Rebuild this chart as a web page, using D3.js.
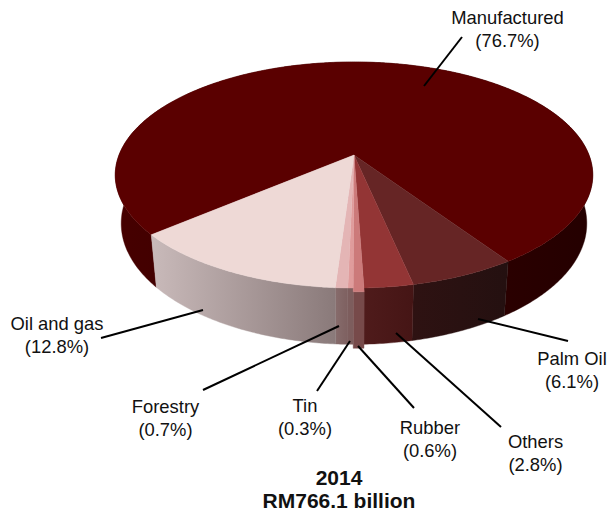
<!DOCTYPE html>
<html>
<head>
<meta charset="utf-8">
<script src="https://cdn.jsdelivr.net/npm/d3@7"></script>
<style>
  html, body { margin: 0; padding: 0; background: #fff; }
  svg { display: block; }
  text { font-family: "Liberation Sans", Arial, sans-serif; fill: #111; }
</style>
</head>
<body>
<svg id="chart" width="610" height="511"></svg>
<script>
// data, in the order the slices run clockwise
let sectors = ["Manufactured", "Palm Oil", "Others", "Rubber", "Tin", "Forestry", "Oil and gas"]
let shares = [76.7, 6.1, 2.8, 0.6, 0.3, 0.7, 12.8]
let topColors = ["#5a0000", "#662525", "#933535", "#cc7a7a", "#e09c9c", "#e4b5b5", "#eed9d6"]
let wallFrom = ["#460000", "#2e1212", "#4f1b1b", "#774a4a", "#7d5d5d", "#876c6c", "#c9baba"]
let wallTo = ["#240000", "#241010", "#451515", "#774a4a", "#7d5d5d", "#7e6060", "#8a7a7a"]

// label anchor [x, y of first baseline], leader [x1, y1, x2, y2]
let labelPos = {
    "Manufactured": [507.5, 24, 462, 37, 424, 86],
    "Palm Oil": [572, 365, 568, 341, 478, 319],
    "Others": [535.5, 448, 501, 427, 396, 333],
    "Rubber": [430, 434, 414, 408, 358, 346],
    "Tin": [305, 412, 317, 391, 350, 341],
    "Forestry": [165.5, 413, 203, 390, 339, 326],
    "Oil and gas": [57, 330, 101, 338, 203, 310]
}
let title = ["2014", "RM766.1 billion"]

let svg = d3.select("#chart")

// the disc is seen in perspective, so its centre sits behind the middle of the ellipse
let cx = 354, cy = 155, rx = 235, ry = 109.5, persp = 0.177
let startAngle = 139.84 * Math.PI / 180

// the rubber slice sticks out of the disc a little
let pull = i => sectors[i] == "Rubber" ? 1.028 : 1

let top3d = (a, i) => {
    let w = 1 - persp * Math.sin(a)
    return [cx + pull(i) * rx * Math.cos(a) / w, cy + pull(i) * ry * Math.sin(a) / w]
}
let bottom3d = (a, i) => {
    let p = top3d(a, i)
    return [cx + 0.975 * (p[0] - cx), cy + 47 + 1.07 * (p[1] - cy)]
}

let pie = d3.pie().sort(null).startAngle(startAngle).endAngle(startAngle + 2 * Math.PI)
let slices = pie(shares)
let line = d3.line()

let arcAngles = d => {
    let n = Math.max(2, Math.ceil((d.endAngle - d.startAngle) / 0.01))
    return d3.range(n + 1).map(i => d.startAngle + (d.endAngle - d.startAngle) * i / n)
}

let defs = svg.append("defs")
slices.forEach((d, i) => {
    let xs = arcAngles(d).map(a => top3d(a, i)[0])
    let grad = defs.append("linearGradient")
        .attr("id", "wall" + i)
        .attr("gradientUnits", "userSpaceOnUse")
        .attr("x1", d3.min(xs)).attr("x2", d3.max(xs))
        .attr("y1", 0).attr("y2", 0)
    grad.append("stop").attr("offset", 0).attr("stop-color", wallFrom[i])
    grad.append("stop").attr("offset", 1).attr("stop-color", wallTo[i])
})

// walls first, the top faces then hide the back half of them
svg.append("g").selectAll("path")
    .data(slices)
    .enter()
    .append("path")
    .attr("d", (d, i) => {
        let angles = arcAngles(d)
        let upper = angles.map(a => top3d(a, i))
        let lower = angles.slice().reverse().map(a => bottom3d(a, i))
        return line(upper.concat(lower)) + "Z"
    })
    .attr("fill", (d, i) => "url(#wall" + i + ")")
    .attr("stroke", (d, i) => "url(#wall" + i + ")")
    .attr("stroke-width", 0.4)

svg.append("g").selectAll("path")
    .data(slices)
    .enter()
    .append("path")
    .attr("d", (d, i) => line([[cx, cy]].concat(arcAngles(d).map(a => top3d(a, i)))) + "Z")
    .attr("fill", (d, i) => topColors[i])
    .attr("stroke", (d, i) => topColors[i])
    .attr("stroke-width", 0.4)

// leaders and labels
let labels = svg.append("g").selectAll("g")
    .data(sectors)
    .enter()
    .append("g")

labels.append("line")
    .attr("x1", d => labelPos[d][2])
    .attr("y1", d => labelPos[d][3])
    .attr("x2", d => labelPos[d][4])
    .attr("y2", d => labelPos[d][5])
    .attr("stroke", "#000")
    .attr("stroke-width", 2)

labels.append("text")
    .attr("x", d => labelPos[d][0])
    .attr("y", d => labelPos[d][1])
    .attr("text-anchor", "middle")
    .attr("font-size", 18.4)
    .text(d => d)

labels.append("text")
    .attr("x", d => labelPos[d][0])
    .attr("y", d => labelPos[d][1] + 23)
    .attr("text-anchor", "middle")
    .attr("font-size", 18.4)
    .text((d, i) => "(" + shares[i].toFixed(1) + "%)")

svg.append("g").selectAll("text")
    .data(title)
    .enter()
    .append("text")
    .attr("x", 339)
    .attr("y", (d, i) => 485 + i * 23)
    .attr("text-anchor", "middle")
    .attr("font-size", 21)
    .attr("font-weight", "bold")
    .text(d => d)
</script>
</body>
</html>
